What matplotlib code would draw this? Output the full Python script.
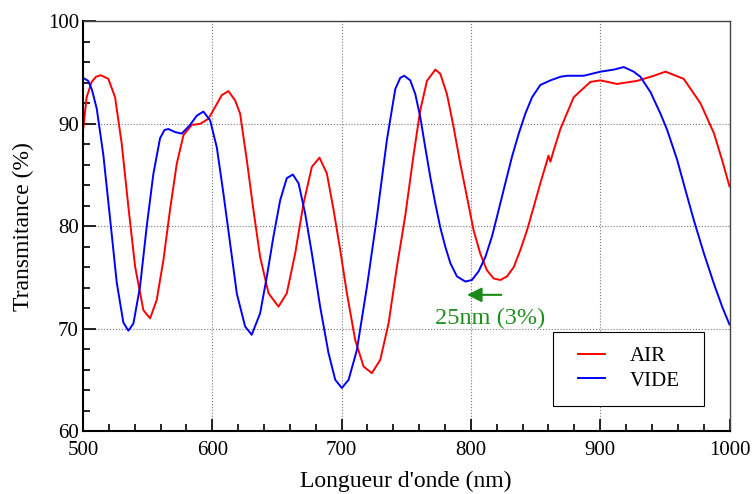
import matplotlib
matplotlib.use("Agg")
import matplotlib.pyplot as plt
from matplotlib.patches import Rectangle
from matplotlib.ticker import MultipleLocator

plt.rcParams['font.family'] = ['Liberation Serif', 'DejaVu Serif']

# wavelength (nm) / transmittance (%)
air_x = [500, 502.8, 506.7, 510, 513.7, 519.6, 524.8, 529.9, 535.1, 540.3,
         546.7, 551.9, 557, 562.2, 567.3, 572.5, 577.7, 584.1, 590.6, 597,
         602.2, 607.3, 612.5, 617.6, 621.5, 626.7, 631.8, 637, 643.5, 651.2,
         657.6, 664.1, 670.5, 677, 682.9, 688.6, 693.8, 698.9, 704.1, 710.5,
         717, 723.4, 729.9, 736.3, 742.8, 749.2, 755.7, 760.8, 766, 772.5,
         776.3, 781.5, 786.6, 791.8, 796.9, 802.1, 807.3, 812.4, 817.6, 822.8,
         827.9, 833.1, 838.3, 843.4, 848.6, 853.7, 858.9, 860, 861.5, 864,
         869.2, 879.5, 892.4, 900.2, 913, 928.5, 941.5, 950.5, 964.6, 977.6,
         987.9, 994.3, 1000]
air_y = [89.3, 92.6, 94.1, 94.6, 94.75, 94.4, 92.6, 88.1, 81.9, 76.05,
         71.8, 71.0, 72.8, 76.7, 81.6, 86.1, 88.9, 89.9, 90.0, 90.5,
         91.65, 92.8, 93.2, 92.3, 91.0, 86.45, 81.6, 77.0, 73.45, 72.15,
         73.45, 77.35, 82.2, 85.8, 86.7, 85.15, 81.6, 77.7, 73.45, 68.9,
         66.3, 65.65, 66.95, 70.5, 76.05, 81.0, 87.0, 91.3, 94.2, 95.3,
         94.9, 92.9, 89.7, 86.1, 82.9, 79.6, 77.3, 75.7, 74.9, 74.75,
         75.1, 76.0, 77.7, 79.6, 81.9, 84.2, 86.4, 86.9, 86.3, 87.4,
         89.5, 92.6, 94.1, 94.25, 93.9, 94.2, 94.7, 95.1, 94.4, 92.0,
         89.1, 86.45, 83.9]

vide_x = [500, 504, 507, 510.6, 515.7, 520.9, 526.1, 531.2, 535.1, 539,
          544.1, 549.3, 554.4, 559.6, 563, 566, 571.2, 576.4, 582.8, 588,
          593.1, 598.3, 603.5, 608.6, 613.8, 619, 625.4, 630.5, 637, 642.2,
          647.3, 652.5, 657.6, 662.3, 666.7, 671.8, 677, 683.4, 689.9, 695.1,
          700.2, 705.4, 711.8, 719.6, 727.3, 735, 741.5, 745.4, 748.5, 753.1,
          757, 760.8, 764.7, 768.6, 772.5, 776.3, 780.2, 784.1, 789.2, 795.7,
          800.8, 806, 811.2, 816.3, 821.5, 826.6, 831.8, 837, 842.1, 847.3,
          853.7, 861.5, 869.2, 874.4, 887.3, 900.2, 910.5, 918.2, 925.9, 931.1,
          938.9, 946.6, 951.8, 959.5, 966, 972.4, 980.2, 987.9, 994.3, 1000]
vide_y = [94.5, 94.2, 93.3, 91.5, 87.0, 80.8, 74.5, 70.6, 69.8, 70.5,
          74.1, 80.0, 85.1, 88.6, 89.4, 89.5, 89.2, 89.05, 89.9, 90.8,
          91.2, 90.35, 87.7, 83.2, 78.3, 73.4, 70.2, 69.4, 71.5, 75.1,
          79.0, 82.55, 84.7, 85.05, 84.2, 81.25, 77.35, 72.15, 67.6, 65.0,
          64.2, 65.0, 67.9, 74.1, 80.9, 88.4, 93.4, 94.5, 94.7, 94.25,
          92.9, 90.7, 87.7, 84.8, 82.2, 79.9, 78.0, 76.4, 75.1, 74.6,
          74.75, 75.6, 77.0, 79.0, 81.6, 84.2, 86.8, 89.05, 91.0, 92.6,
          93.8, 94.25, 94.6, 94.7, 94.7, 95.1, 95.3, 95.55, 95.1, 94.6,
          93.1, 91.0, 89.4, 86.5, 83.5, 80.6, 77.35, 74.4, 72.15, 70.4]

W, H = 753, 494
fig = plt.figure(figsize=(W / 100, H / 100), dpi=100)
ax = fig.add_axes([83 / W, 63 / H, 646.5 / W, 409.5 / H])

ax.plot(air_x, air_y, color='#ff0000', lw=1.4, label='AIR')
ax.plot(vide_x, vide_y, color='#0000ff', lw=1.4, label='VIDE')

ax.set_xlim(500, 1000)
ax.set_ylim(60, 100)
ax.xaxis.set_major_locator(MultipleLocator(100))
ax.xaxis.set_minor_locator(MultipleLocator(20))
ax.yaxis.set_major_locator(MultipleLocator(10))
ax.yaxis.set_minor_locator(MultipleLocator(2))
ax.tick_params(which='both', direction='in', top=False, right=False,
               labelsize=15, width=1.2)
ax.tick_params(which='major', length=9)
ax.tick_params(which='minor', length=5)
ax.tick_params(axis='x', pad=7)
ax.tick_params(axis='y', pad=3)
ax.grid(True, which='major', color='#777777', linestyle=':', lw=0.8)

for side in ['left', 'bottom']:
    ax.spines[side].set_linewidth(1.5)
for side in ['top', 'right']:
    ax.spines[side].set_linewidth(1.0)
    ax.spines[side].set_color('#444444')

ax.set_xlabel("Longueur d'onde (nm)", fontsize=17, labelpad=8)
ax.set_ylabel("Transmitance (%)", fontsize=17, labelpad=10)

# shift annotation
ax.annotate('', xy=(797, 73.3), xytext=(823.5, 73.3),
            arrowprops=dict(arrowstyle='-|>', color='#1a8a1a', lw=1.5,
                            mutation_scale=22, shrinkA=0, shrinkB=0))
ax.text(815, 71.0, '25nm (3%)', ha='center', va='center', fontsize=17.5,
        color='#1f8f1f')

# legend: entries without frame, box drawn separately (tighter vertically)
ax.add_patch(Rectangle((553.3 / W, 1 - 406 / H), 151 / W, 74.3 / H,
                       transform=fig.transFigure, facecolor='white',
                       edgecolor='black', lw=0.8, zorder=4, clip_on=False))
leg = ax.legend(loc='center left', bbox_to_anchor=(578 / W, 1 - 368.5 / H),
                bbox_transform=fig.transFigure, fontsize=15, frameon=False,
                borderpad=0, labelspacing=0.25, handlelength=1.3,
                handletextpad=1.2, borderaxespad=0)
leg.set_zorder(5)

fig.savefig('out.png', dpi=100)
